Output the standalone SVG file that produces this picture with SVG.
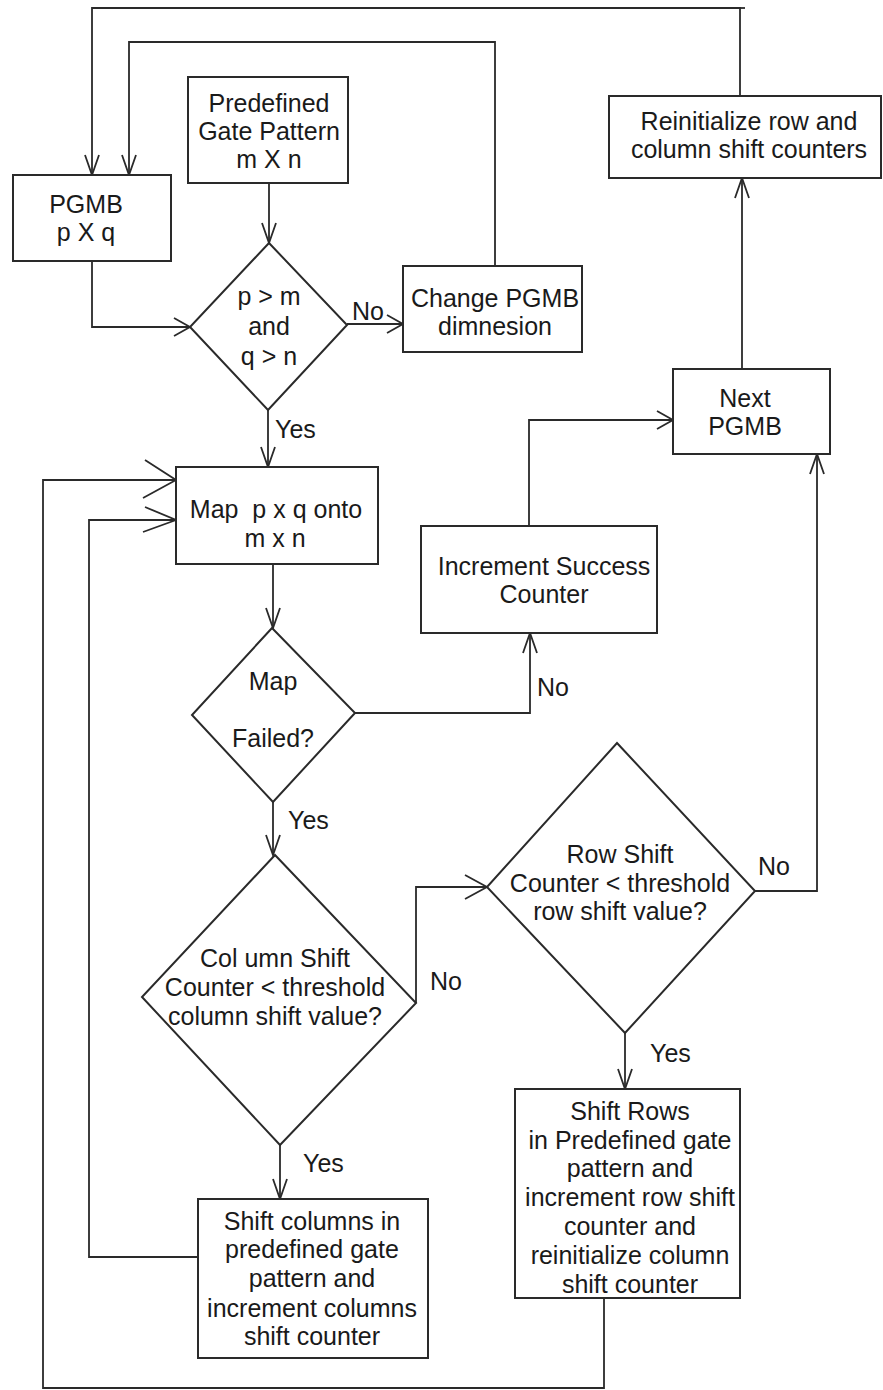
<svg xmlns="http://www.w3.org/2000/svg" width="883" height="1390" viewBox="0 0 883 1390">
<style>
.box{fill:#fff;stroke:#2a2a2a;stroke-width:2}
.ln{fill:none;stroke:#2a2a2a;stroke-width:1.8}
.t{font-family:"Liberation Sans",Arial,sans-serif;font-size:25px;fill:#1a1a1a;text-anchor:middle}
.lb{font-family:"Liberation Sans",Arial,sans-serif;font-size:25px;fill:#1a1a1a}
</style>
<defs>
<marker id="a" markerUnits="userSpaceOnUse" orient="auto" refX="0" refY="0" markerWidth="40" markerHeight="40" overflow="visible">
<path d="M-20,-7 L0,0 L-20,7" fill="none" stroke="#2a2a2a" stroke-width="1.8"/>
</marker>
<marker id="am" markerUnits="userSpaceOnUse" orient="auto" refX="0" refY="0" markerWidth="40" markerHeight="40" overflow="visible">
<path d="M-16,-9 L0,0 L-16,9" fill="none" stroke="#2a2a2a" stroke-width="1.8"/>
</marker>
<marker id="ar" markerUnits="userSpaceOnUse" orient="auto" refX="0" refY="0" markerWidth="40" markerHeight="40" overflow="visible">
<path d="M-22,-12 L0,0 L-22,12" fill="none" stroke="#2a2a2a" stroke-width="1.8"/>
</marker>
<marker id="al1" markerUnits="userSpaceOnUse" orient="auto" refX="0" refY="0" markerWidth="60" markerHeight="60" overflow="visible">
<path d="M-31,-20 L0,0 L-33,18" fill="none" stroke="#2a2a2a" stroke-width="1.8"/>
</marker>
<marker id="al2" markerUnits="userSpaceOnUse" orient="auto" refX="0" refY="0" markerWidth="60" markerHeight="60" overflow="visible">
<path d="M-31,-13 L0,0 L-33,12" fill="none" stroke="#2a2a2a" stroke-width="1.8"/>
</marker>
</defs>

<g id="connectors">
<path class="ln" d="M740,96 V8 H92 V175" marker-end="url(#a)"/>
<path class="ln" d="M740,8 H745"/>
<path class="ln" d="M495,266 V42 H129 V175" marker-end="url(#a)"/>
<path class="ln" d="M92,261 V327 H190" marker-end="url(#am)"/>
<path class="ln" d="M269,183 V243" marker-end="url(#a)"/>
<path class="ln" d="M347,324 H403" marker-end="url(#am)"/>
<path class="ln" d="M268,410 V467" marker-end="url(#a)"/>
<path class="ln" d="M742,369 V178" marker-end="url(#a)"/>
<path class="ln" d="M529,526 V420 H673" marker-end="url(#am)"/>
<path class="ln" d="M273,564 V628" marker-end="url(#a)"/>
<path class="ln" d="M355,713 H530 V633" marker-end="url(#a)"/>
<path class="ln" d="M273,802 V855" marker-end="url(#a)"/>
<path class="ln" d="M416,1003 V887 H487" marker-end="url(#ar)"/>
<path class="ln" d="M755,891 H817 V454" marker-end="url(#a)"/>
<path class="ln" d="M625,1033 V1089" marker-end="url(#a)"/>
<path class="ln" d="M280,1145 V1199" marker-end="url(#a)"/>
<path class="ln" d="M198,1257 H89 V520 H176" marker-end="url(#al2)"/>
<path class="ln" d="M604,1298 V1388 H43 V480 H176" marker-end="url(#al1)"/>
<text class="lb" x="352" y="320">No</text>
<text class="lb" x="275" y="438">Yes</text>
<text class="lb" x="537" y="696">No</text>
<text class="lb" x="288" y="829">Yes</text>
<text class="lb" x="430" y="990">No</text>
<text class="lb" x="758" y="875">No</text>
<text class="lb" x="650" y="1062">Yes</text>
<text class="lb" x="303" y="1172">Yes</text>
</g>

<g id="pgmb">
<rect class="box" x="13" y="175" width="158" height="86"/>
<text class="t" x="86" y="213">PGMB</text>
<text class="t" x="86" y="241">p X q</text>
</g>

<g id="predefined">
<rect class="box" x="188" y="77" width="160" height="106"/>
<text class="t" x="269" y="112">Predefined</text>
<text class="t" x="269" y="140">Gate Pattern</text>
<text class="t" x="269" y="168">m X n</text>
</g>

<g id="check-dim">
<polygon class="box" points="269,243 347,325 268,410 190,327"/>
<text class="t" x="269" y="305">p &gt; m</text>
<text class="t" x="269" y="335">and</text>
<text class="t" x="269" y="365">q &gt; n</text>
</g>

<g id="change-pgmb">
<rect class="box" x="403" y="266" width="179" height="86"/>
<text class="t" x="495" y="307">Change PGMB</text>
<text class="t" x="495" y="335">dimnesion</text>
</g>

<g id="reinit">
<rect class="box" x="609" y="96" width="272" height="82"/>
<text class="t" x="749" y="130">Reinitialize row and</text>
<text class="t" x="749" y="158">column shift counters</text>
</g>

<g id="next-pgmb">
<rect class="box" x="673" y="369" width="157" height="85"/>
<text class="t" x="745" y="407">Next</text>
<text class="t" x="745" y="435">PGMB</text>
</g>

<g id="increment-success">
<rect class="box" x="421" y="526" width="236" height="107"/>
<text class="t" x="544" y="575">Increment Success</text>
<text class="t" x="544" y="603">Counter</text>
</g>

<g id="map">
<rect class="box" x="176" y="467" width="202" height="97"/>
<text class="t" x="276" y="518" xml:space="preserve">Map  p x q onto</text>
<text class="t" x="275" y="547">m x n</text>
</g>

<g id="map-failed">
<polygon class="box" points="272,628 355,713 273,802 192,715"/>
<text class="t" x="273" y="690">Map</text>
<text class="t" x="273" y="747">Failed?</text>
</g>

<g id="col-check">
<polygon class="box" points="275,855 416,1003 280,1145 142,997"/>
<text class="t" x="275" y="967">Col umn Shift</text>
<text class="t" x="275" y="996">Counter &lt; threshold</text>
<text class="t" x="275" y="1025">column shift value?</text>
</g>

<g id="row-check">
<polygon class="box" points="617,743 755,891 625,1033 487,887"/>
<text class="t" x="620" y="863">Row Shift</text>
<text class="t" x="620" y="892">Counter &lt; threshold</text>
<text class="t" x="620" y="920">row shift value?</text>
</g>

<g id="shift-cols">
<rect class="box" x="198" y="1199" width="230" height="159"/>
<text class="t" x="312" y="1230">Shift columns in</text>
<text class="t" x="312" y="1258">predefined gate</text>
<text class="t" x="312" y="1287">pattern and</text>
<text class="t" x="312" y="1317">increment columns</text>
<text class="t" x="312" y="1345">shift counter</text>
</g>

<g id="shift-rows">
<rect class="box" x="515" y="1089" width="225" height="209"/>
<text class="t" x="630" y="1120">Shift Rows</text>
<text class="t" x="630" y="1149">in Predefined gate</text>
<text class="t" x="630" y="1177">pattern and</text>
<text class="t" x="630" y="1206">increment row shift</text>
<text class="t" x="630" y="1235">counter and</text>
<text class="t" x="630" y="1264">reinitialize column</text>
<text class="t" x="630" y="1293">shift counter</text>
</g>
</svg>
